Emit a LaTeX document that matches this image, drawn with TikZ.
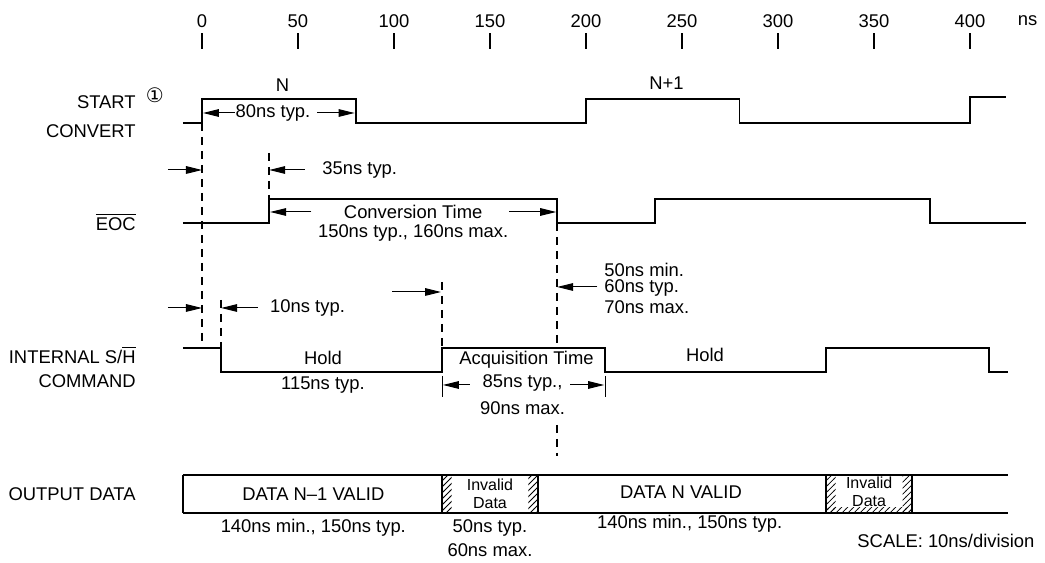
\documentclass[tikz,border=0pt]{standalone}
\usepackage{fontspec}
\setmainfont{Liberation Sans}
\newfontfamily\symfont{DejaVu Sans}
\usetikzlibrary{arrows.meta,patterns}

\tikzset{
  sig/.style={line width=0.95pt},
  dimarrow/.style={-{Triangle[length=8pt,width=3.8pt]}, line width=0.5pt},
  guide/.style={dash pattern=on 4pt off 3pt, line width=0.7pt},
  hatch/.style={pattern=north east lines},
  tick/.style={line width=1.2pt},
  every node/.style={font=\fontsize{9.2}{11}\selectfont, inner sep=1pt},
}

\begin{document}
\begin{tikzpicture}[x=0.96pt, y=-0.5pt]
    \useasboundingbox (-105.2,0) rectangle (439.1,563);

    % time scale
    \draw node (t0)   at (0,21)   {0};
    \draw node (t50)  at (50,21)  {50};
    \draw node (t100) at (100,21) {100};
    \draw node (t150) at (150,21) {150};
    \draw node (t200) at (200,21) {200};
    \draw node (t250) at (250,21) {250};
    \draw node (t300) at (300,21) {300};
    \draw node (t350) at (350,21) {350};
    \draw node (t400) at (400,21) {400};
    \draw node (ns)   at (430,21) {ns};
    \draw[tick] (0,33) -- (0,49);
    \draw[tick] (50,33) -- (50,49);
    \draw[tick] (100,33) -- (100,49);
    \draw[tick] (150,33) -- (150,49);
    \draw[tick] (200,33) -- (200,49);
    \draw[tick] (250,33) -- (250,49);
    \draw[tick] (300,33) -- (300,49);
    \draw[tick] (350,33) -- (350,49);
    \draw[tick] (400,33) -- (400,49);

    % signal names
    \draw node[anchor=east] (start)   at (-33.3,102) {START};
    \draw node (note)                 at (-24.5,95)  {\symfont\fontsize{10}{11}\selectfont ①};
    \draw node[anchor=east] (convert) at (-33.3,131) {CONVERT};
    \draw node[anchor=east] (eoc)     at (-33.3,222) {$\overline{\mbox{EOC}}$};
    \draw node[anchor=east] (sh)      at (-33.3,355) {INTERNAL S/$\overline{\mbox{H}}$};
    \draw node[anchor=east] (command) at (-33.3,381) {COMMAND};
    \draw node[anchor=east] (output)  at (-33.3,494) {OUTPUT DATA};

    % START CONVERT
    \draw node (n)  at (42,85)  {N};
    \draw node (n1) at (242,83) {N+1};
    \draw[sig] (-10,123) -- (0,123) -- (0,99) -- (80,99) -- (80,123) -- (200,123) -- (200,99)
        -- (280,99) -- (280,123) -- (400,123) -- (400,97) -- (419,97);
    \draw[dimarrow] (17,113) -- (0.5,113);
    \draw node (w80) at (37,113) {80ns typ.};
    \draw[dimarrow] (60,113) -- (79.5,113);

    \draw[guide] (0,123) -- (0,345);
    \draw[dimarrow] (-17.7,170) -- (0,170);
    \draw[guide] (35,153) -- (35,199);
    \draw[dimarrow] (53.6,170) -- (35,170);
    \draw node[anchor=west] (d35) at (61.5,170) {35ns typ.};

    % EOC
    \draw[sig] (-10,223) -- (35,223) -- (35,199) -- (185,199) -- (185,223) -- (236,223) -- (236,199)
        -- (379,199) -- (379,223) -- (429,223);
    \draw[dimarrow] (57,212) -- (35.5,212);
    \draw node (conv) at (110,212) {Conversion Time};
    \draw[dimarrow] (160,212) -- (184.5,212);
    \draw node (convt) at (110,233) {150ns typ., 160ns max.};

    \draw[guide] (185,223) -- (185,345);
    \draw[guide] (185,425) -- (185,456);
    \draw[dimarrow] (206,287) -- (185,287);
    \draw node[anchor=west] (dmin) at (208.3,270) {50ns min.};
    \draw node[anchor=west] (dtyp) at (208.3,288) {60ns typ.};
    \draw node[anchor=west] (dmax) at (208.3,307) {70ns max.};

    % INTERNAL S/H COMMAND
    \draw[dimarrow] (-17.7,308) -- (0,308);
    \draw[guide] (10,300) -- (10,372);
    \draw[dimarrow] (29,308) -- (10,308);
    \draw node (d10) at (55,308) {10ns typ.};
    \draw[dimarrow] (99,292) -- (124.5,292);
    \draw[guide] (125,282) -- (125,348);

    \draw[sig] (-10,348) -- (10,348) -- (10,372) -- (125,372) -- (125,348) -- (210,348) -- (210,372)
        -- (325,372) -- (325,348) -- (410,348) -- (410,372) -- (420,372);
    \draw node (hold1) at (63,358)  {Hold};
    \draw node (h115)  at (63,385)  {115ns typ.};
    \draw node (acq)   at (169,360) {Acquisition Time};
    \draw node (a85)   at (167,383) {85ns typ.,};
    \draw node (a90)   at (167,408) {90ns max.};
    \draw (125,376) -- (125,397);
    \draw (210,376) -- (210,397);
    \draw[dimarrow] (139.6,385) -- (125.5,385);
    \draw[dimarrow] (191.7,385) -- (209.5,385);
    \draw node (hold2) at (262,355) {Hold};

    % OUTPUT DATA
    \fill[hatch] (125,475) rectangle (130,513);
    \fill[hatch] (170,475) rectangle (175,513);
    \fill[hatch] (325,475) rectangle (330,513);
    \fill[hatch] (365,475) rectangle (370,513);
    \fill[hatch] (325,508) rectangle (370,513);
    \draw[sig] (-10,475) -- (420,475);
    \draw[line width=1.3pt] (-10,513) -- (420,513);
    \draw[sig] (-10,475) -- (-10,513);
    \draw[sig] (125,475) -- (125,513);
    \draw[sig] (175,475) -- (175,513);
    \draw[sig] (325,475) -- (325,513);
    \draw[sig] (370,475) -- (370,513);

    \draw node (valid0) at (58,494)    {DATA N--1 VALID};
    \draw node[align=center, font=\fontsize{8}{9}\selectfont] (inv1) at (150,494)   {Invalid\\Data};
    \draw node (valid1) at (249.5,492) {DATA N VALID};
    \draw node[align=center, font=\fontsize{8}{9}\selectfont] (inv2) at (347.5,492) {Invalid\\Data};

    \draw node (v0t)  at (58,528)   {140ns min., 150ns typ.};
    \draw node (i50)  at (150,528)  {50ns typ.};
    \draw node (i60)  at (150,550)  {60ns max.};
    \draw node (v1t)  at (254,524)  {140ns min., 150ns typ.};
    \draw node (scale) at (387.5,541) {SCALE: 10ns/division};

\end{tikzpicture}
\end{document}
